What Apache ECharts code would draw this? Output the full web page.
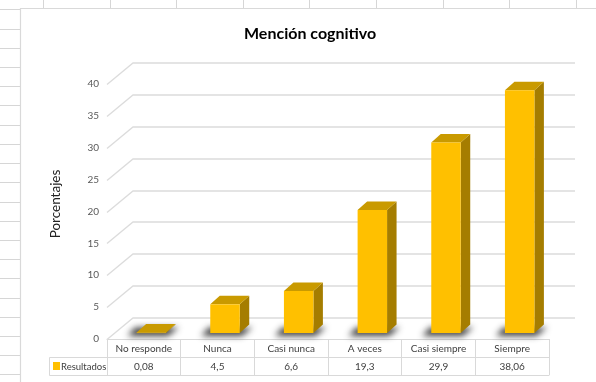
<!DOCTYPE html>
<html>
<head>
<meta charset="utf-8">
<style>
  html, body { margin: 0; padding: 0; background: #ffffff; }
  #chart { width: 596px; height: 382px; }
</style>
<script src="https://cdn.jsdelivr.net/npm/echarts@6/dist/echarts.min.js"></script>
</head>
<body>
<div id="chart"></div>
<script>
// ---- data ----
const categories = ['No responde', 'Nunca', 'Casi nunca', 'A veces', 'Casi siempre', 'Siempre'];
const resultados = [0.08, 4.5, 6.6, 19.3, 29.9, 38.06];
const yTicks = [0, 5, 10, 15, 20, 25, 30, 35, 40];
const seriesName = 'Resultados';
const titleText = 'Mención cognitivo';
const yAxisTitle = 'Porcentajes';

// decimal comma for the data table
const fmt = v => String(v).replace('.', ',');

// ---- 3-D look: depth offsets (pixels) ----
const WALL_DX = 26, WALL_DY = -21.5;   // front edge of floor -> back wall
const BAR_DX = 7.5, BAR_DY = -6;       // front face of columns sits inside the floor
const SIDE_DX = 9.5, SIDE_DY = -8.5;   // column depth
const FONT = 'Lato, "Open Sans", sans-serif';
const BAR_COLOR = '#FFC000';

const chart = echarts.init(document.getElementById('chart'), null, { renderer: 'canvas' });

// spreadsheet cells around the chart object
const sheet = [];
for (let k = 0; k < 20; k++) {
  const y = Math.round(9.3 + 19.22 * k) + 0.5;
  sheet.push({ type: 'line', silent: true, shape: { x1: 0, y1: y, x2: 20, y2: y },
    style: { stroke: '#d6d6d6', lineWidth: 1 } });
}
for (let k = 0; k < 9; k++) {
  const x = Math.round(43 + 66.6 * k) + 0.5;
  sheet.push({ type: 'line', silent: true, shape: { x1: x, y1: 0, x2: x, y2: 8 },
    style: { stroke: '#d6d6d6', lineWidth: 1 } });
}
// chart area frame
sheet.push({ type: 'rect', silent: true, shape: { x: 20.5, y: 8.5, width: 620, height: 400 },
  style: { fill: '#ffffff', stroke: '#d9d9d9', lineWidth: 1.2 }, z: -1 });
// legend-key cell of the data table
sheet.push({ type: 'polyline', silent: true,
  shape: { points: [[107, 357.5], [49.5, 357.5], [49.5, 375.5], [107, 375.5]] },
  style: { stroke: '#d9d9d9', lineWidth: 1, fill: null } });
sheet.push({ type: 'rect', silent: true, shape: { x: 53, y: 362, width: 7, height: 8 },
  style: { fill: BAR_COLOR } });
sheet.push({ type: 'text', silent: true, x: 61, y: 366.5,
  style: { text: seriesName, fontFamily: FONT, fontSize: 9.5, fill: '#404040',
    textAlign: 'left', textVerticalAlign: 'middle' } });
// value-axis title
sheet.push({ type: 'text', silent: true, x: 56, y: 204, rotation: Math.PI / 2,
  style: { text: yAxisTitle, fontFamily: FONT, fontSize: 13.5, fill: '#222222',
    textAlign: 'center', textVerticalAlign: 'middle' } });

const option = {
  animation: false,
  backgroundColor: '#ffffff',
  title: {
    text: titleText,
    left: 239, top: 21,
    textStyle: { fontFamily: FONT, fontSize: 16, fontWeight: 'bold', color: '#000000' }
  },
  graphic: sheet,
  grid: { left: 107, right: 47, top: 84, bottom: 43 },
  xAxis: [
    { // category row of the table
      type: 'category', data: categories, position: 'bottom', boundaryGap: true,
      axisLine: { show: true, lineStyle: { color: '#d9d9d9', width: 1 } },
      axisTick: { show: true, length: 36, inside: false, interval: 0, lineStyle: { color: '#d9d9d9' } },
      axisLabel: { interval: 0, margin: 5, fontFamily: FONT, fontSize: 10, color: '#404040' },
      splitLine: { show: false }
    },
    { // value row of the table
      type: 'category', data: categories, position: 'bottom', offset: 18,
      axisLine: { show: true, lineStyle: { color: '#d9d9d9', width: 1 } },
      axisTick: { show: false },
      axisLabel: { interval: 0, margin: 5, fontFamily: FONT, fontSize: 10, color: '#404040',
        formatter: (val, idx) => fmt(resultados[idx]) }
    },
    { // bottom border of the table
      type: 'category', data: categories, position: 'bottom', offset: 36,
      axisLine: { show: true, lineStyle: { color: '#d9d9d9', width: 1 } },
      axisTick: { show: false }, axisLabel: { show: false }
    }
  ],
  yAxis: {
    type: 'value', min: 0, max: 40, interval: 5,
    axisLine: { show: false }, axisTick: { show: false },
    axisLabel: { margin: 8, fontFamily: FONT, fontSize: 10, color: '#595959' },
    splitLine: { show: false }
  },
  series: [
    { // floor edges and back-wall gridlines
      type: 'custom', name: 'gridlines', silent: true, z: 1,
      data: yTicks.map(v => [0, v]),
      encode: { x: 0, y: 1 },
      renderItem(params, api) {
        const cs = params.coordSys;
        const y = Math.round(api.coord([0, api.value(1)])[1]) + 0.5;
        const x0 = cs.x, x1 = cs.x + cs.width;
        return {
          type: 'polyline',
          shape: { points: [[x0, y], [x0 + WALL_DX, y + WALL_DY], [x1 + WALL_DX, y + WALL_DY]] },
          style: { stroke: '#dcdcdc', lineWidth: 1.3, fill: null }
        };
      }
    },
    { // 3-D columns
      type: 'custom', name: seriesName, z: 2,
      itemStyle: { color: BAR_COLOR },
      data: resultados.map((v, i) => [i, v]),
      encode: { x: 0, y: 1 },
      renderItem(params, api) {
        const i = api.value(0), v = api.value(1);
        const top = api.coord([i, v]);
        const base = api.coord([i, 0]);
        const bw = api.size([1, 0])[0] * 0.4;
        const cx = base[0] + BAR_DX;
        const xl = cx - bw / 2, xr = cx + bw / 2;
        const yb = base[1] + BAR_DY, yt = top[1] + BAR_DY;
        const OFF = 3000;
        // footprint shadow on the floor (shape drawn off-canvas, only its blurred shadow shows)
        const sh = [
          [xl - 9 - OFF, yb + 3], [xr + 2 - OFF, yb + 3],
          [xr + SIDE_DX + 3 - OFF, yb + SIDE_DY + 3], [xl + SIDE_DX - 11 - OFF, yb + SIDE_DY + 3]
        ];
        return {
          type: 'group',
          children: [
            { type: 'polygon', shape: { points: sh },
              style: { fill: '#000', shadowColor: 'rgba(30,30,30,0.85)', shadowBlur: 6, shadowOffsetX: OFF } },
            { type: 'polygon', // side face
              shape: { points: [[xr, yt], [xr + SIDE_DX, yt + SIDE_DY], [xr + SIDE_DX, yb + SIDE_DY], [xr, yb]] },
              style: { fill: '#A57D00' } },
            { type: 'polygon', // top face
              shape: { points: [[xl, yt], [xr, yt], [xr + SIDE_DX, yt + SIDE_DY], [xl + SIDE_DX, yt + SIDE_DY]] },
              style: { fill: '#C99A00' } },
            { type: 'rect', // front face
              shape: { x: xl, y: yt, width: bw, height: Math.max(yb - yt, 0.6) },
              style: { fill: BAR_COLOR } }
          ]
        };
      }
    }
  ]
};

chart.setOption(option);
</script>
</body>
</html>
